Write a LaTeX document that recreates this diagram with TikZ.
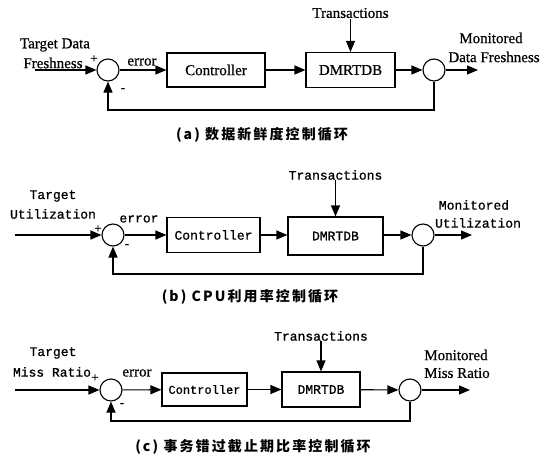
\documentclass[tikz,border=0pt]{standalone}
\usepackage{fontspec}
\setmainfont{Liberation Serif}[FakeBold=0.6]
\setmonofont{Liberation Mono}[FakeBold=0.8]
\newfontfamily\cjk[LetterSpace=15]{Noto Sans CJK SC}
\usetikzlibrary{arrows.meta,calc}
\begin{document}
\begin{tikzpicture}[x=1pt,y=-1pt,
  every path/.style={line width=1.1pt},
  arr/.style={-{Triangle[length=11pt,width=9pt]}},
  serif/.style={font=\fontsize{15}{16}\selectfont\rmfamily},
  mono/.style={font=\fontsize{13}{14}\selectfont\ttfamily},
  blockbox/.style={draw,line width=1.1pt,inner sep=0pt},
  sumnode/.style={draw,circle,line width=1.1pt,minimum size=22pt,inner sep=0pt},
  lbl/.style={inner sep=0pt},
  sign/.style={inner sep=0pt,font=\fontsize{13}{14}\selectfont\rmfamily},
  captext/.style={inner sep=0pt,font=\fontsize{14}{16}\selectfont\cjk\bfseries}]
\useasboundingbox (0,0) rectangle (546,460);
\fill[white] (0,0) rectangle (546,460);

% ---------------- panel (a)
\node[sumnode] (s1a) at (108,70) {};
\node[sumnode] (s2a) at (434,70) {};
\node[blockbox,serif,minimum width=98pt,minimum height=34pt] (ca) at (216,70) {Controller};
\node[blockbox,serif,minimum width=89pt,minimum height=35pt] (da) at (350.5,70) {DMRTDB};
\node[lbl,serif] (ta) at (350.5,13) {Transactions};
\node[lbl,serif] (tga) at (55,45) {Target Data};
\node[lbl,serif] (tgb) at (53,63) {Freshness};
\node[lbl,serif] (ea) at (142,62) {error};
\node[lbl,serif] (ma) at (491,38) {Monitored};
\node[lbl,serif] (mb) at (494,57) {Data Freshness};
\node[sign] (pa) at (94,59) {+};
\node[sign] (na) at (123,90) {-};
\node[captext] (capa) at (262,135) {(a) 数据新鲜度控制循环};
\coordinate (ina) at (35,70);
\coordinate (outa) at (478,70);
\coordinate (fba) at (0,110);
\draw[arr] (ina) -- (s1a);
\draw[arr] (s1a) -- (ca);
\draw[arr] (ca) -- (da);
\draw[arr] (da) -- (s2a);
\draw[arr] (s2a) -- (outa);
\draw[arr] (ta) -- (da);
\draw[arr] (s2a.south) -- (s2a.south |- fba) -| (s1a.south);

% ---------------- panel (b)
\node[sumnode] (s1b) at (113,235) {};
\node[sumnode] (s2b) at (423,235) {};
\node[blockbox,mono,minimum width=93pt,minimum height=35pt] (cb) at (213.5,235) {Controller};
\node[blockbox,mono,minimum width=95pt,minimum height=38pt] (db) at (335.5,236) {DMRTDB};
\node[lbl,mono] (tb) at (335.5,175) {Transactions};
\node[lbl,mono] (tgc) at (53,196) {Target};
\node[lbl,mono] (tgd) at (53,214) {Utilization};
\node[lbl,mono] (eb) at (139,219) {error};
\node[lbl,mono] (mc) at (474,205) {Monitored};
\node[lbl,mono] (md) at (478,223) {Utilization};
\node[sign] (pb) at (98,229) {+};
\node[sign] (nb) at (127,246) {-};
\node[captext] (capb) at (250,297) {(b) CPU利用率控制循环};
\coordinate (inb) at (15,235);
\coordinate (outb) at (472,235);
\coordinate (fbb) at (0,274);
\draw[arr] (inb) -- (s1b);
\draw[arr] (s1b) -- (cb);
\draw[arr] (cb) -- (cb -| db.west);
\draw[arr] (db.east |- s2b) -- (s2b);
\draw[arr] (s2b) -- (outb);
\draw[arr] (tb) -- (db);
\draw[arr] (s2b.south) -- (s2b.south |- fbb) -| (s1b.south);

% ---------------- panel (c)
\node[sumnode] (s1c) at (111,390) {};
\node[sumnode] (s2c) at (410,390) {};
\node[blockbox,mono,font=\fontsize{12}{13}\selectfont\ttfamily,minimum width=85pt,minimum height=33pt] (cc) at (204.5,389.5) {Controller};
\node[blockbox,mono,minimum width=78pt,minimum height=35pt] (dc) at (321,389.5) {DMRTDB};
\node[lbl,mono] (tc) at (321,336) {Transactions};
\node[lbl,mono] (tge) at (53,353) {Target};
\node[lbl,mono] (tgf) at (52,372) {Miss Ratio};
\node[lbl,serif] (ec) at (137,373) {error};
\node[lbl,serif] (me) at (456,355) {Monitored};
\node[lbl,serif] (mf) at (457,373) {Miss Ratio};
\node[sign] (pc) at (95,378) {+};
\node[sign] (nc) at (122,405) {-};
\node[captext] (capc) at (253,447) {(c) 事务错过截止期比率控制循环};
\coordinate (inc) at (15,390);
\coordinate (outc) at (470,390);
\coordinate (fbc) at (0,421);
\draw[arr] (inc) -- (s1c);
\draw[arr] (s1c) -- (cc);
\draw[arr] (cc) -- (dc);
\draw[arr] (dc) -- (s2c);
\draw[arr] (s2c) -- (outc);
\draw[arr] (tc) -- (dc);
\draw[arr] (s2c.south) -- (s2c.south |- fbc) -| (s1c.south);
\end{tikzpicture}
\end{document}
